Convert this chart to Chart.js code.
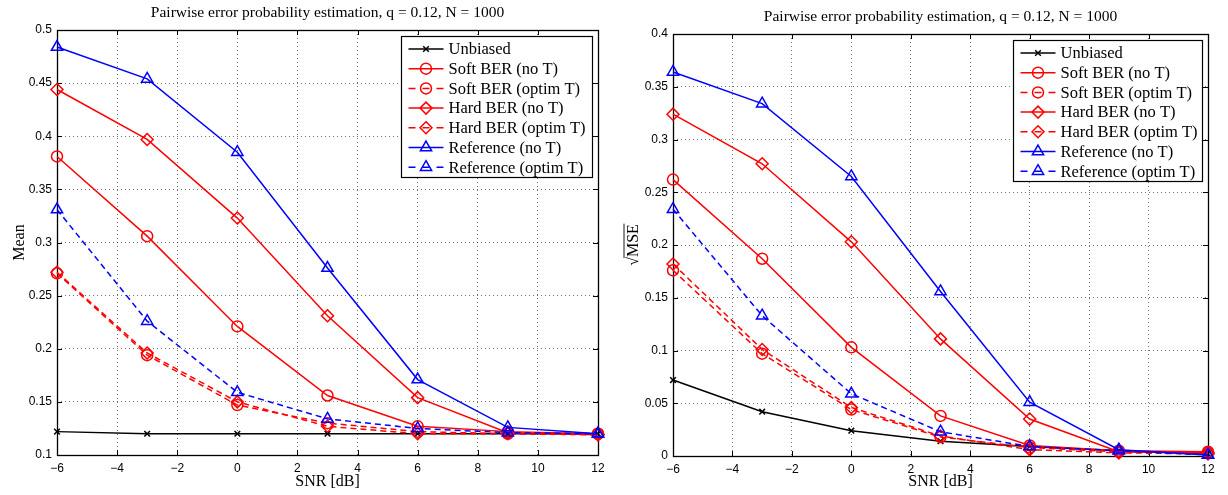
<!DOCTYPE html>
<html>
<head>
<meta charset="utf-8">
<script src="https://cdn.jsdelivr.net/npm/chart.js@4.4.1/dist/chart.umd.min.js"></script>
<style>
  html, body { margin: 0; padding: 0; background: #ffffff; }
  #wrap { position: relative; width: 1228px; height: 495px; overflow: hidden; }
  .panel { position: absolute; top: 0; width: 614px; height: 495px; }
  canvas { display: block; }
</style>
</head>
<body>
<div id="wrap">
  <div class="panel" style="left:0px"><canvas id="meanChart" width="614" height="495"></canvas></div>
  <div class="panel" style="left:614px"><canvas id="rmseChart" width="614" height="495"></canvas></div>
</div>
<script>
// ---- data ----
const snrDb = [-6, -3, 0, 3, 6, 9, 12];
const seriesNames = ['Unbiased', 'Soft BER (no T)', 'Soft BER (optim T)', 'Hard BER (no T)',
                     'Hard BER (optim T)', 'Reference (no T)', 'Reference (optim T)'];

// mean of the estimated pairwise error probability
const meanUnbiased = [0.122, 0.120, 0.120, 0.120, 0.120, 0.120, 0.120];
const meanSoftNoT  = [0.381, 0.306, 0.221, 0.156, 0.127, 0.122, 0.120];
const meanSoftOptT = [0.271, 0.194, 0.147, 0.130, 0.122, 0.120, 0.120];
const meanHardNoT  = [0.444, 0.397, 0.323, 0.231, 0.154, 0.121, 0.119];
const meanHardOptT = [0.272, 0.196, 0.150, 0.127, 0.120, 0.120, 0.119];
const meanRefNoT   = [0.484, 0.454, 0.385, 0.276, 0.171, 0.126, 0.120];
const meanRefOptT  = [0.331, 0.226, 0.159, 0.134, 0.125, 0.121, 0.120];

// root mean squared error of the estimate
const rmseUnbiased = [0.072, 0.042, 0.024, 0.014, 0.009, 0.005, 0.002];
const rmseSoftNoT  = [0.262, 0.187, 0.103, 0.038, 0.010, 0.005, 0.004];
const rmseSoftOptT = [0.176, 0.097, 0.044, 0.018, 0.008, 0.004, 0.003];
const rmseHardNoT  = [0.324, 0.277, 0.203, 0.111, 0.035, 0.004, 0.003];
const rmseHardOptT = [0.182, 0.101, 0.046, 0.019, 0.006, 0.003, 0.002];
const rmseRefNoT   = [0.364, 0.334, 0.265, 0.156, 0.051, 0.006, 0.001];
const rmseRefOptT  = [0.234, 0.133, 0.059, 0.023, 0.009, 0.005, 0.001];

// tick positions
const xTicks    = [-6, -4, -2, 0, 2, 4, 6, 8, 10, 12];
const meanTicks = [0.1, 0.15, 0.2, 0.25, 0.3, 0.35, 0.4, 0.45, 0.5];
const rmseTicks = [0, 0.05, 0.1, 0.15, 0.2, 0.25, 0.3, 0.35, 0.4];

const plotTitle = 'Pairwise error probability estimation, q = 0.12, N = 1000';
const xTitle = 'SNR [dB]';

// ---- styling ----
const SERIF = '"Liberation Serif", "Times New Roman", serif';
const SANS = '"Liberation Sans", Arial, Helvetica, sans-serif';
const GRID = 'rgba(0,0,0,0.55)';
const DASH = [6, 4];
const LINE_W = 1.5;

const seriesStyles = [
  { color: '#000000', dashed: false, marker: 'crossRot', radius: 4 },
  { color: '#ff0000', dashed: false, marker: 'circle',   radius: 5.5 },
  { color: '#ff0000', dashed: true,  marker: 'circle',   radius: 5.5 },
  { color: '#ff0000', dashed: false, marker: 'rectRot',  radius: 6 },
  { color: '#ff0000', dashed: true,  marker: 'rectRot',  radius: 6 },
  { color: '#0000ff', dashed: false, marker: 'triangle', radius: 6.5 },
  { color: '#0000ff', dashed: true,  marker: 'triangle', radius: 6.5 }
];

function buildDatasets(valueLists) {
  return valueLists.map((vals, i) => {
    const st = seriesStyles[i];
    return {
      label: seriesNames[i],
      data: snrDb.map((x, k) => ({ x: x, y: vals[k] })),
      borderColor: st.color,
      borderWidth: LINE_W,
      borderDash: st.dashed ? DASH : [],
      pointStyle: st.marker,
      pointRadius: st.radius,
      pointHoverRadius: st.radius,
      pointBorderColor: st.color,
      pointBackgroundColor: 'rgba(0,0,0,0)',
      pointBorderWidth: LINE_W,
      tension: 0,
      fill: false,
      clip: false,
      order: valueLists.length - i
    };
  });
}

function fmtNum(v) {
  const s = String(Number(v.toFixed(2)));
  return v < 0 ? '\u2212' + s.slice(1) : s;
}

// legend marker outlines (same shapes as the plotted points)
function strokeMarker(ctx, style, x, y, r) {
  ctx.beginPath();
  if (style === 'circle') {
    ctx.arc(x, y, r, 0, Math.PI * 2);
  } else if (style === 'rectRot') {
    ctx.moveTo(x - r, y); ctx.lineTo(x, y - r); ctx.lineTo(x + r, y); ctx.lineTo(x, y + r); ctx.closePath();
  } else if (style === 'triangle') {
    ctx.moveTo(x, y - r);
    ctx.lineTo(x + r * Math.sin(2 * Math.PI / 3), y - r * Math.cos(2 * Math.PI / 3));
    ctx.lineTo(x + r * Math.sin(4 * Math.PI / 3), y - r * Math.cos(4 * Math.PI / 3));
    ctx.closePath();
  } else if (style === 'crossRot') {
    const d = r * Math.SQRT1_2;
    ctx.moveTo(x - d, y - d); ctx.lineTo(x + d, y + d);
    ctx.moveTo(x + d, y - d); ctx.lineTo(x - d, y + d);
  }
  ctx.stroke();
}

// axes box, inward ticks, legend box and all titles
const framePlugin = {
  id: 'frame',
  beforeDatasetsDraw(chart, args, o) {
    const ctx = chart.ctx, a = chart.chartArea, xs = chart.scales.x, ys = chart.scales.y;
    const TL = 5;
    ctx.save();
    ctx.strokeStyle = '#000';
    ctx.lineWidth = 1;
    ctx.beginPath();
    xs.ticks.forEach(t => {
      const px = Math.round(xs.getPixelForValue(t.value)) + 0.5;
      ctx.moveTo(px, a.bottom); ctx.lineTo(px, a.bottom - TL);
      ctx.moveTo(px, a.top); ctx.lineTo(px, a.top + TL);
    });
    ys.ticks.forEach(t => {
      const py = Math.round(ys.getPixelForValue(t.value)) + 0.5;
      ctx.moveTo(a.left, py); ctx.lineTo(a.left + TL, py);
      ctx.moveTo(a.right, py); ctx.lineTo(a.right - TL, py);
    });
    ctx.stroke();
    ctx.lineWidth = 1.3;
    ctx.strokeRect(Math.round(a.left) + 0.5, Math.round(a.top) + 0.5,
                   Math.round(a.right - a.left), Math.round(a.bottom - a.top));
    ctx.restore();
  },
  afterDatasetsDraw(chart, args, o) {
    const ctx = chart.ctx, a = chart.chartArea;
    const bw = o.legendWidth, bh = 141;
    const bx = Math.round(a.right - 6 - bw) + 0.5, by = Math.round(a.top + 6) + 0.5;
    ctx.save();
    ctx.fillStyle = '#ffffff';
    ctx.fillRect(bx, by, bw, bh);
    ctx.strokeStyle = '#000';
    ctx.lineWidth = 1.2;
    ctx.strokeRect(bx, by, bw, bh);
    ctx.font = '16.5px ' + SERIF;
    ctx.textBaseline = 'middle';
    ctx.textAlign = 'left';
    seriesNames.forEach((name, i) => {
      const st = seriesStyles[i];
      const cy = by + 12.5 + i * 19.7;
      const x0 = bx + 7, x1 = bx + 42, cx = (x0 + x1) / 2;
      ctx.strokeStyle = st.color;
      ctx.lineWidth = LINE_W;
      ctx.beginPath();
      if (st.dashed) {
        ctx.moveTo(x0, cy); ctx.lineTo(x0 + 7, cy);
        ctx.moveTo(cx - 3.5, cy); ctx.lineTo(cx + 3.5, cy);
        ctx.moveTo(x1 - 7, cy); ctx.lineTo(x1, cy);
      } else {
        ctx.moveTo(x0, cy); ctx.lineTo(x1, cy);
      }
      ctx.stroke();
      strokeMarker(ctx, st.marker, cx, cy, st.radius);
      ctx.fillStyle = '#000';
      ctx.fillText(name, bx + 47, cy + 1);
    });
    ctx.restore();
  },
  afterDraw(chart, args, o) {
    const ctx = chart.ctx, a = chart.chartArea;
    const midX = (a.left + a.right) / 2, midY = (a.top + a.bottom) / 2;
    ctx.save();
    ctx.fillStyle = '#000';
    ctx.strokeStyle = '#000';
    ctx.font = '15.5px ' + SERIF;
    ctx.textAlign = 'center';
    ctx.textBaseline = 'middle';
    ctx.fillText(plotTitle, midX, a.top - 17);
    ctx.font = '16px ' + SERIF;
    ctx.fillText(xTitle, midX, 482);
    // y-axis label, rotated
    ctx.translate(o.yLabelX, midY);
    ctx.rotate(-Math.PI / 2);
    ctx.textBaseline = 'alphabetic';
    if (o.yLabelRoot) {
      const rad = '\u221A';
      const wr = ctx.measureText(rad).width, wt = ctx.measureText(o.yLabel).width;
      const x0 = -(wr + wt) / 2;
      ctx.textAlign = 'left';
      ctx.fillText(rad, x0, 5.5);
      ctx.fillText(o.yLabel, x0 + wr, 5.5);
      ctx.lineWidth = 0.9;
      ctx.beginPath();
      ctx.moveTo(x0 + wr - 1, 5.5 - 13.5);
      ctx.lineTo(x0 + wr + wt + 0.5, 5.5 - 13.5);
      ctx.stroke();
    } else {
      ctx.textAlign = 'center';
      ctx.fillText(o.yLabel, 0, 5.5);
    }
    ctx.restore();
  }
};

function makeChart(canvasId, valueLists, cfg) {
  return new Chart(document.getElementById(canvasId), {
    type: 'line',
    data: { datasets: buildDatasets(valueLists) },
    options: {
      responsive: false,
      animation: false,
      devicePixelRatio: 1,
      events: [],
      layout: { padding: { left: 0, right: cfg.padRight, top: cfg.padTop, bottom: 0 } },
      plugins: {
        legend: { display: false },
        tooltip: { enabled: false },
        title: { display: false },
        frame: cfg
      },
      scales: {
        x: {
          type: 'linear',
          min: snrDb[0],
          max: snrDb[snrDb.length - 1],
          afterBuildTicks: s => { s.ticks = xTicks.map(v => ({ value: v })); },
          afterFit: s => { s.height = cfg.xAxisHeight; },
          grid: { color: GRID, lineWidth: 1, drawTicks: false, borderDash: [1, 3] },
          border: { display: false, dash: [1, 3] },
          ticks: { color: '#000', padding: 6, maxRotation: 0, autoSkip: false,
                   font: { family: SANS, size: 12 }, callback: v => fmtNum(v) }
        },
        y: {
          type: 'linear',
          min: cfg.ticks[0],
          max: cfg.ticks[cfg.ticks.length - 1],
          afterBuildTicks: s => { s.ticks = cfg.ticks.map(v => ({ value: v })); },
          afterFit: s => { s.width = cfg.yAxisWidth; },
          grid: { color: GRID, lineWidth: 1, drawTicks: false, borderDash: [1, 3] },
          border: { display: false, dash: [1, 3] },
          ticks: { color: '#000', padding: 5, autoSkip: false,
                   font: { family: SANS, size: 12 }, callback: v => fmtNum(v) }
        }
      }
    },
    plugins: [framePlugin]
  });
}

makeChart('meanChart',
  [meanUnbiased, meanSoftNoT, meanSoftOptT, meanHardNoT, meanHardOptT, meanRefNoT, meanRefOptT],
  { ticks: meanTicks, yAxisWidth: 57, xAxisHeight: 40, padRight: 16, padTop: 30,
    legendWidth: 191, yLabel: 'Mean', yLabelRoot: false, yLabelX: 18 });

makeChart('rmseChart',
  [rmseUnbiased, rmseSoftNoT, rmseSoftOptT, rmseHardNoT, rmseHardOptT, rmseRefNoT, rmseRefOptT],
  { ticks: rmseTicks, yAxisWidth: 59, xAxisHeight: 39, padRight: 20, padTop: 34,
    legendWidth: 189, yLabel: 'MSE', yLabelRoot: true, yLabelX: 18 });
</script>
</body>
</html>
